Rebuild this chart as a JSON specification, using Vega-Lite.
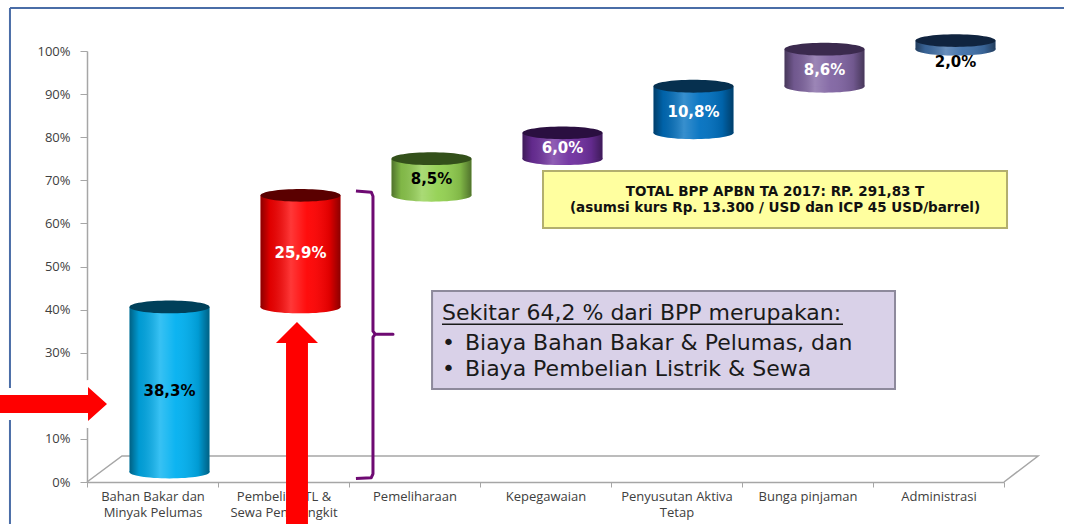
{
  "$schema": "https://vega.github.io/schema/vega-lite/v6.json",
  "width": 917,
  "height": 431,
  "padding": {"left": 0, "top": 6, "right": 0, "bottom": 0},
  "background": "white",
  "config": {"view": {"stroke": null}, "font": "Open Sans", "axis": {"grid": false}},
  "datasets": {
    "costs": [
      {"kategori": "Bahan Bakar dan Minyak Pelumas", "start": 0, "end": 38.3, "label": "38,3%"},
      {"kategori": "Pembelian TL & Sewa Pembangkit", "start": 38.3, "end": 64.2, "label": "25,9%"},
      {"kategori": "Pemeliharaan", "start": 64.2, "end": 72.7, "label": "8,5%"},
      {"kategori": "Kepegawaian", "start": 72.7, "end": 78.7, "label": "6,0%"},
      {"kategori": "Penyusutan Aktiva Tetap", "start": 78.7, "end": 89.5, "label": "10,8%"},
      {"kategori": "Bunga pinjaman", "start": 89.5, "end": 98.1, "label": "8,6%"},
      {"kategori": "Administrasi", "start": 98.1, "end": 100.1, "label": "2,0%"}
    ],
    "floor": [
      {"fx": 0, "fy": 0, "o": 1},
      {"fx": 0.267, "fy": 6.03, "o": 2},
      {"fx": 7.26, "fy": 6.03, "o": 3},
      {"fx": 7, "fy": 0, "o": 4}
    ],
    "brace": [
      {"bx": 2.053, "by": 67.5, "o": 1},
      {"bx": 2.17, "by": 67.25, "o": 2},
      {"bx": 2.183, "by": 66.3, "o": 3},
      {"bx": 2.183, "by": 35.0, "o": 4},
      {"bx": 2.2, "by": 34.3, "o": 5},
      {"bx": 2.336, "by": 34.3, "o": 6},
      {"bx": 2.2, "by": 34.3, "o": 7},
      {"bx": 2.183, "by": 33.6, "o": 8},
      {"bx": 2.183, "by": 1.9, "o": 9},
      {"bx": 2.17, "by": 1.0, "o": 10},
      {"bx": 2.053, "by": 0.8, "o": 11}
    ],
    "frame": [
      {"x1": -0.588, "x2": 7.458, "y1": 109.98, "y2": 109.98},
      {"x1": -0.588, "x2": -0.588, "y1": 109.98, "y2": -9.98}
    ],
    "totalBox": [{"x1": 3.481, "x2": 7.023, "y1": 72.16, "y2": 58.93}],
    "noteBox": [{"x1": 2.634, "x2": 6.168, "y1": 44.3, "y2": 21.6}],
    "totalText": [
      {"tx": 5.252, "ty": 67.3, "t": "TOTAL BPP APBN TA 2017: RP. 291,83 T"},
      {"tx": 5.252, "ty": 63.6, "t": "(asumsi kurs Rp. 13.300 / USD dan ICP 45 USD/barrel)"}
    ],
    "noteText": [
      {"tx": 2.71, "ty": 39.2, "t": "Sekitar 64,2 % dari BPP merupakan:"},
      {"tx": 2.885, "ty": 32.25, "t": "Biaya Bahan Bakar & Pelumas, dan"},
      {"tx": 2.885, "ty": 26.2, "t": "Biaya Pembelian Listrik & Sewa"}
    ],
    "bullets": [
      {"tx": 2.71, "ty": 32.25, "t": "•"},
      {"tx": 2.71, "ty": 26.2, "t": "•"}
    ],
    "underline": [{"x1": 2.71, "x2": 5.771, "y1": 36.6}],
    "vArrow": [{"ax": 1.603, "ay": 13.57}],
    "hArrow": [{"ax": -0.2557, "ay": 18.1}]
  },
  "layer": [
    {
      "data": {"name": "floor"},
      "mark": {"type": "line", "color": "#A6A6A6", "strokeWidth": 1.5},
      "encoding": {
        "x": {"field": "fx", "type": "quantitative", "scale": {"domain": [0, 7], "nice": false, "zero": false}, "axis": null},
        "y": {"field": "fy", "type": "quantitative", "title": null, "scale": {"domain": [0, 100], "nice": false},
          "axis": {"title": null, "values": [0, 10, 20, 30, 40, 50, 60, 70, 80, 90, 100], "labelExpr": "datum.value + '%'", "tickSize": 7, "labelPadding": 10, "domainColor": "#A6A6A6", "domainWidth": 1.5, "tickColor": "#A6A6A6", "labelColor": "#404040", "labelFontSize": 13, "labelFont": "Open Sans", "grid": false}},
        "order": {"field": "o"}
      }
    },
    {
      "data": {"name": "costs"},
      "encoding": {
        "x": {
          "field": "kategori", "type": "nominal",
          "sort": ["Bahan Bakar dan Minyak Pelumas", "Pembelian TL & Sewa Pembangkit", "Pemeliharaan", "Kepegawaian", "Penyusutan Aktiva Tetap", "Bunga pinjaman", "Administrasi"],
          "scale": {"paddingInner": 0, "paddingOuter": 0},
          "axis": {
            "title": null, "labelAngle": 0, "labelFontSize": 13, "labelColor": "#404040", "labelFont": "Open Sans",
            "labelLineHeight": 16, "labelPadding": 3, "tickSize": 5, "tickBand": "extent", "tickColor": "#A6A6A6",
            "domainColor": "#A6A6A6", "domainWidth": 1.5,
            "labelExpr": "datum.label == 'Bahan Bakar dan Minyak Pelumas' ? ['Bahan Bakar dan', 'Minyak Pelumas'] : datum.label == 'Pembelian TL & Sewa Pembangkit' ? ['Pembelian TL &', 'Sewa Pembangkit'] : datum.label == 'Penyusutan Aktiva Tetap' ? ['Penyusutan Aktiva', 'Tetap'] : datum.label"
          }
        }
      },
      "layer": [
        {
          "mark": {"type": "point", "shape": "M -1 0 C -1 -0.088 -0.552 -0.16 0 -0.16 C 0.552 -0.16 1 -0.088 1 0 C 1 0.088 0.552 0.16 0 0.16 C -0.552 0.16 -1 0.088 -1 0 Z", "size": 6400, "filled": true, "opacity": 1, "strokeWidth": 0, "xOffset": 17, "yOffset": -10},
          "encoding": {
            "y": {"field": "start", "type": "quantitative", "title": null, "scale": {"domain": [0, 100], "nice": false}},
            "color": {"field": "kategori", "type": "nominal", "legend": null,
              "scale": {"domain": ["Bahan Bakar dan Minyak Pelumas", "Pembelian TL & Sewa Pembangkit", "Pemeliharaan", "Kepegawaian", "Penyusutan Aktiva Tetap", "Bunga pinjaman", "Administrasi"],
                "range": ["#00B0F0", "#FF0000", "#92D050", "#7030A0", "#0070C0", "#8064A2", "#3F6FA8"]}}
          }
        },
        {
          "mark": {"type": "point", "shape": "M -1 0 C -1 -0.088 -0.552 -0.16 0 -0.16 C 0.552 -0.16 1 -0.088 1 0 C 1 0.088 0.552 0.16 0 0.16 C -0.552 0.16 -1 0.088 -1 0 Z", "size": 6400, "filled": true, "opacity": 1, "strokeWidth": 0, "xOffset": 17, "yOffset": -10,
            "fill": {"gradient": "linear", "x1": 0, "y1": 0, "x2": 1, "y2": 0, "stops": [{"offset": 0, "color": "rgba(0,0,0,0.45)"}, {"offset": 0.12, "color": "rgba(0,0,0,0.12)"}, {"offset": 0.38, "color": "rgba(255,255,255,0.22)"}, {"offset": 0.58, "color": "rgba(255,255,255,0.05)"}, {"offset": 0.86, "color": "rgba(0,0,0,0.12)"}, {"offset": 1, "color": "rgba(0,0,0,0.45)"}]}},
          "encoding": {"y": {"field": "start", "type": "quantitative", "title": null, "scale": {"domain": [0, 100], "nice": false}}}
        },
        {
          "mark": {"type": "bar", "width": {"band": 0.61}, "xOffset": 17, "x2Offset": 17, "yOffset": -10, "y2Offset": -10},
          "encoding": {
            "y": {"field": "start", "type": "quantitative", "title": null, "scale": {"domain": [0, 100], "nice": false}},
            "y2": {"field": "end"},
            "color": {"field": "kategori", "type": "nominal", "legend": null}
          }
        },
        {
          "mark": {"type": "bar", "width": {"band": 0.61}, "xOffset": 17, "x2Offset": 17, "yOffset": -10, "y2Offset": -10,
            "fill": {"gradient": "linear", "x1": 0, "y1": 0, "x2": 1, "y2": 0, "stops": [{"offset": 0, "color": "rgba(0,0,0,0.45)"}, {"offset": 0.12, "color": "rgba(0,0,0,0.12)"}, {"offset": 0.38, "color": "rgba(255,255,255,0.22)"}, {"offset": 0.58, "color": "rgba(255,255,255,0.05)"}, {"offset": 0.86, "color": "rgba(0,0,0,0.12)"}, {"offset": 1, "color": "rgba(0,0,0,0.45)"}]}},
          "encoding": {
            "y": {"field": "start", "type": "quantitative", "title": null, "scale": {"domain": [0, 100], "nice": false}},
            "y2": {"field": "end"}
          }
        },
        {
          "mark": {"type": "point", "shape": "M -1 0 C -1 -0.088 -0.552 -0.16 0 -0.16 C 0.552 -0.16 1 -0.088 1 0 C 1 0.088 0.552 0.16 0 0.16 C -0.552 0.16 -1 0.088 -1 0 Z", "size": 6400, "filled": true, "opacity": 1, "strokeWidth": 0, "xOffset": 17, "yOffset": -10},
          "encoding": {
            "y": {"field": "end", "type": "quantitative", "title": null, "scale": {"domain": [0, 100], "nice": false}},
            "fill": {"field": "kategori", "type": "nominal", "legend": null,
              "scale": {"domain": ["Bahan Bakar dan Minyak Pelumas", "Pembelian TL & Sewa Pembangkit", "Pemeliharaan", "Kepegawaian", "Penyusutan Aktiva Tetap", "Bunga pinjaman", "Administrasi"],
                "range": ["#00405A", "#5A0000", "#33501A", "#2A0F40", "#06304F", "#3B2A4E", "#10243F"]}}
          }
        },
        {
          "transform": [{"filter": "datum.label != '2,0%'"}, {"fold": ["start", "end"], "as": ["edge", "val"]}],
          "mark": {"type": "text", "fontWeight": "bold", "fontSize": 15, "font": "DejaVu Sans", "xOffset": 17, "yOffset": -8, "baseline": "middle"},
          "encoding": {
            "y": {"aggregate": "mean", "field": "val", "type": "quantitative", "title": null, "scale": {"domain": [0, 100], "nice": false}},
            "text": {"field": "label"},
            "color": {"condition": {"test": "indexof(['25,9%','6,0%','10,8%','8,6%'], datum.label) >= 0", "value": "white"}, "value": "black"}
          }
        },
        {
          "transform": [{"filter": "datum.label == '2,0%'"}],
          "mark": {"type": "text", "fontWeight": "bold", "fontSize": 15, "font": "DejaVu Sans", "xOffset": 17, "yOffset": -4, "baseline": "top", "color": "black"},
          "encoding": {
            "y": {"field": "start", "type": "quantitative", "title": null, "scale": {"domain": [0, 100], "nice": false}},
            "text": {"field": "label"}
          }
        }
      ]
    },
    {
      "encoding": {},
      "layer": [
        {
          "data": {"name": "brace"},
          "mark": {"type": "line", "color": "#6E0A72", "strokeWidth": 3, "strokeJoin": "round"},
          "encoding": {
            "x": {"field": "bx", "type": "quantitative", "scale": {"domain": [0, 7], "nice": false, "zero": false}, "axis": null},
            "y": {"field": "by", "type": "quantitative", "title": null, "scale": {"domain": [0, 100], "nice": false}},
            "order": {"field": "o"}
          }
        },
        {
          "data": {"name": "frame"},
          "mark": {"type": "rule", "color": "#4A6DA7", "strokeWidth": 2},
          "encoding": {
            "x": {"field": "x1", "type": "quantitative", "scale": {"domain": [0, 7], "nice": false, "zero": false}, "axis": null},
            "x2": {"field": "x2"},
            "y": {"field": "y1", "type": "quantitative", "title": null, "scale": {"domain": [0, 100], "nice": false}},
            "y2": {"field": "y2"}
          }
        },
        {
          "data": {"name": "totalBox"},
          "mark": {"type": "rect", "fill": "#FFFF9F", "stroke": "#B3AF6E", "strokeWidth": 2},
          "encoding": {
            "x": {"field": "x1", "type": "quantitative", "scale": {"domain": [0, 7], "nice": false, "zero": false}, "axis": null},
            "x2": {"field": "x2"},
            "y": {"field": "y1", "type": "quantitative", "title": null, "scale": {"domain": [0, 100], "nice": false}},
            "y2": {"field": "y2"}
          }
        },
        {
          "data": {"name": "noteBox"},
          "mark": {"type": "rect", "fill": "#D9D1E8", "stroke": "#8E8A9C", "strokeWidth": 2},
          "encoding": {
            "x": {"field": "x1", "type": "quantitative", "scale": {"domain": [0, 7], "nice": false, "zero": false}, "axis": null},
            "x2": {"field": "x2"},
            "y": {"field": "y1", "type": "quantitative", "title": null, "scale": {"domain": [0, 100], "nice": false}},
            "y2": {"field": "y2"}
          }
        },
        {
          "data": {"name": "totalText"},
          "mark": {"type": "text", "fontWeight": "bold", "fontSize": 13.5, "font": "DejaVu Sans", "color": "#111111", "align": "center", "baseline": "middle"},
          "encoding": {
            "x": {"field": "tx", "type": "quantitative", "scale": {"domain": [0, 7], "nice": false, "zero": false}, "axis": null},
            "y": {"field": "ty", "type": "quantitative", "title": null, "scale": {"domain": [0, 100], "nice": false}},
            "text": {"field": "t"}
          }
        },
        {
          "data": {"name": "noteText"},
          "mark": {"type": "text", "fontSize": 22, "font": "DejaVu Sans", "color": "#1A1A1A", "align": "left", "baseline": "middle"},
          "encoding": {
            "x": {"field": "tx", "type": "quantitative", "scale": {"domain": [0, 7], "nice": false, "zero": false}, "axis": null},
            "y": {"field": "ty", "type": "quantitative", "title": null, "scale": {"domain": [0, 100], "nice": false}},
            "text": {"field": "t"}
          }
        },
        {
          "data": {"name": "bullets"},
          "mark": {"type": "text", "fontSize": 22, "font": "DejaVu Sans", "color": "#1A1A1A", "align": "left", "baseline": "middle"},
          "encoding": {
            "x": {"field": "tx", "type": "quantitative", "scale": {"domain": [0, 7], "nice": false, "zero": false}, "axis": null},
            "y": {"field": "ty", "type": "quantitative", "title": null, "scale": {"domain": [0, 100], "nice": false}},
            "text": {"field": "t"}
          }
        },
        {
          "data": {"name": "underline"},
          "mark": {"type": "rule", "color": "#1A1A1A", "strokeWidth": 1.5},
          "encoding": {
            "x": {"field": "x1", "type": "quantitative", "scale": {"domain": [0, 7], "nice": false, "zero": false}, "axis": null},
            "x2": {"field": "x2"},
            "y": {"field": "y1", "type": "quantitative", "title": null, "scale": {"domain": [0, 100], "nice": false}}
          }
        },
        {
          "data": {"name": "hArrow"},
          "mark": {"type": "point", "shape": "M 1 0 L 0.645 0.318 L 0.645 0.168 L -0.869 0.168 L -0.869 -0.168 L 0.645 -0.168 L 0.645 -0.318 Z", "size": 11449, "filled": true, "opacity": 1, "fill": "white", "stroke": "white", "strokeWidth": 14, "strokeJoin": "round"},
          "encoding": {
            "x": {"field": "ax", "type": "quantitative", "scale": {"domain": [0, 7], "nice": false, "zero": false}, "axis": null},
            "y": {"field": "ay", "type": "quantitative", "title": null, "scale": {"domain": [0, 100], "nice": false}}
          }
        },
        {
          "data": {"name": "hArrow"},
          "mark": {"type": "point", "shape": "M 1 0 L 0.645 0.318 L 0.645 0.168 L -1 0.168 L -1 -0.168 L 0.645 -0.168 L 0.645 -0.318 Z", "size": 11449, "filled": true, "opacity": 1, "fill": "#FF0000", "strokeWidth": 0},
          "encoding": {
            "x": {"field": "ax", "type": "quantitative", "scale": {"domain": [0, 7], "nice": false, "zero": false}, "axis": null},
            "y": {"field": "ay", "type": "quantitative", "title": null, "scale": {"domain": [0, 100], "nice": false}}
          }
        },
        {
          "data": {"name": "vArrow"},
          "mark": {"type": "point", "shape": "M 0 -1 L 0.207 -0.793 L 0.108 -0.793 L 0.108 1 L -0.108 1 L -0.108 -0.793 L -0.207 -0.793 Z", "size": 41209, "filled": true, "opacity": 1, "fill": "#FF0000", "strokeWidth": 0},
          "encoding": {
            "x": {"field": "ax", "type": "quantitative", "scale": {"domain": [0, 7], "nice": false, "zero": false}, "axis": null},
            "y": {"field": "ay", "type": "quantitative", "title": null, "scale": {"domain": [0, 100], "nice": false}}
          }
        }
      ]
    }
  ],
  "resolve": {"scale": {"x": "independent"}, "axis": {"x": "independent"}}
}
